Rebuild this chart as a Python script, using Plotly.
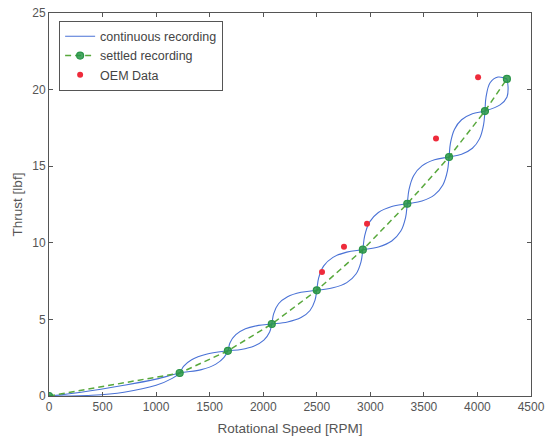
import plotly.graph_objects as go

# Settled recording (RPM, lbf)
settled_rpm = [0, 1220, 1670, 2080, 2500, 2930, 3345, 3735, 4070, 4275]
settled_thrust = [0, 1.5, 2.95, 4.7, 6.9, 9.55, 12.55, 15.6, 18.6, 20.7]

# OEM data
oem_rpm = [2549, 2754, 2969, 3613, 4006]
oem_thrust = [8.1, 9.75, 11.25, 16.8, 20.8]

# Continuous recording, branch 1
cont1_rpm = [0, 400, 700, 1000, 1150, 1220,
             1256, 1332, 1468, 1670,
             1793, 1916, 2006, 2060, 2080,
             2097, 2143, 2227, 2353, 2500,
             2651, 2780, 2866, 2913, 2930,
             2947, 2992, 3075, 3200, 3345,
             3482, 3599, 3677, 3720, 3735,
             3748, 3785, 3852, 3953, 4070,
             4211, 4276, 4286, 4275]
cont1_thrust = [0, 0.05, 0.25, 0.7, 1.15, 1.5,
                1.94, 2.37, 2.73, 2.95,
                3.04, 3.27, 3.65, 4.18, 4.7,
                5.36, 6.02, 6.48, 6.77, 6.9,
                7.06, 7.40, 7.96, 8.76, 9.55,
                10.45, 11.35, 11.98, 12.37, 12.55,
                12.73, 13.13, 13.77, 14.69, 15.6,
                16.5, 17.4, 18.03, 18.42, 18.6,
                19.0, 19.52, 20.17, 20.7]

# Continuous recording, branch 2
cont2_rpm = [0, 300, 700, 1000, 1220,
             1423, 1558, 1634, 1670,
             1690, 1744, 1834, 1957, 2080,
             2227, 2353, 2437, 2483, 2500,
             2517, 2565, 2651, 2780, 2930,
             3075, 3200, 3283, 3329, 3345,
             3361, 3404, 3482, 3599, 3735,
             3852, 3953, 4020, 4057, 4070,
             4080, 4118, 4192, 4275]
cont2_thrust = [0, 0.25, 0.7, 1.1, 1.5,
                1.72, 2.08, 2.52, 2.95,
                3.48, 4.0, 4.39, 4.61, 4.7,
                4.83, 5.12, 5.58, 6.24, 6.9,
                7.70, 8.49, 9.05, 9.39, 9.55,
                9.73, 10.12, 10.75, 11.65, 12.55,
                13.47, 14.38, 15.02, 15.42, 15.6,
                15.78, 16.17, 16.8, 17.7, 18.6,
                19.5, 20.45, 20.82, 20.7]

x_ticks = [0, 500, 1000, 1500, 2000, 2500, 3000, 3500, 4000, 4500]
y_ticks = [0, 5, 10, 15, 20, 25]

blue = "#4a72d6"
green_line = "#58a83c"
green_mk = "#2a9448"
red = "#ee2b3b"
font = "Liberation Sans, Arial, sans-serif"
txt = "#555555"

fig = go.Figure()
fig.add_trace(go.Scatter(
    x=cont1_rpm + [None] + cont2_rpm,
    y=cont1_thrust + [None] + cont2_thrust,
    mode="lines", line=dict(color=blue, width=1.1, shape="spline"),
    name="continuous recording", connectgaps=False))
fig.add_trace(go.Scatter(
    x=settled_rpm, y=settled_thrust, mode="lines+markers",
    line=dict(color=green_line, width=1.5, dash="6px,4px"),
    marker=dict(symbol="circle", size=7, color="rgba(40,150,70,0.85)",
                line=dict(color=green_mk, width=1.2)),
    name="settled recording"))
fig.add_trace(go.Scatter(
    x=oem_rpm, y=oem_thrust, mode="markers",
    marker=dict(symbol="circle", size=6, color=red),
    name="OEM Data"))

axis_common = dict(
    showline=True, linecolor="#555555", linewidth=1, mirror="ticks",
    ticks="inside", ticklen=4, tickcolor="#555555", showgrid=False,
    zeroline=False, automargin=False,
    tickfont=dict(family=font, size=12, color=txt),
)
fig.update_xaxes(range=[0, 4500], tickvals=x_ticks,
                 title=dict(text="Rotational Speed [RPM]", standoff=10,
                            font=dict(family=font, size=13.5, color=txt)),
                 **axis_common)
fig.update_yaxes(range=[0, 25], tickvals=y_ticks,
                 title=dict(text="Thrust [lbf]", standoff=6,
                            font=dict(family=font, size=13.5, color=txt)),
                 **axis_common)

fig.update_layout(
    width=545, height=436,
    margin=dict(l=49, r=14, t=13, b=40),
    plot_bgcolor="white", paper_bgcolor="white",
    legend=dict(x=0.021, y=0.98, xanchor="left", yanchor="top",
                bordercolor="#555555", borderwidth=1, bgcolor="white",
                font=dict(family=font, size=12.5, color="#444444"),
                tracegroupgap=0, itemwidth=30),
    showlegend=True,
)

fig.write_html("out.html")
